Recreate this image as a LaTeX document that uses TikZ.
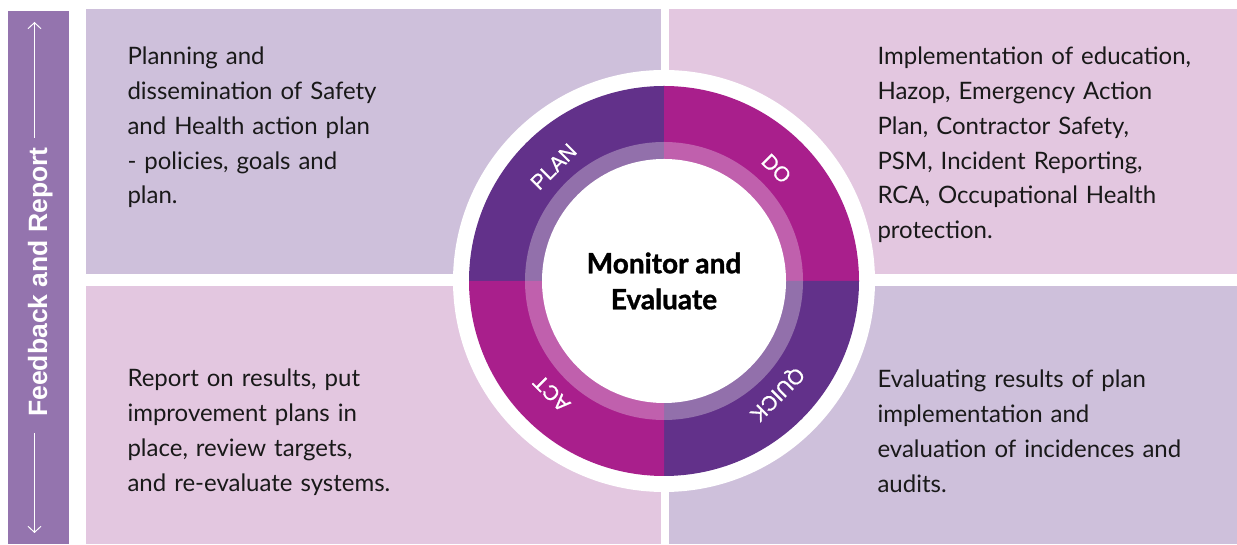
\documentclass[tikz,border=0pt]{standalone}
\usepackage{fontspec}
\setmainfont{Lato}
\newfontfamily\ringfont[FakeBold=0.8]{Liberation Sans}
\newfontfamily\barfont{Liberation Sans}
\newfontfamily\heavyfont[BoldFeatures={FakeBold=1.2}]{Lato}
\usepackage{tikz}
\usetikzlibrary{arrows.meta}
\usetikzlibrary{positioning}

\definecolor{barpurple}{HTML}{9474AE}
\definecolor{lilac}{HTML}{CEC0DB}
\definecolor{blush}{HTML}{E3C7E0}
\definecolor{deeppurple}{HTML}{62318A}
\definecolor{deepmagenta}{HTML}{A91F8C}
\definecolor{softpurple}{HTML}{9270AB}
\definecolor{softmagenta}{HTML}{C060AD}

\tikzstyle{panel} = [rectangle,inner sep=0pt,anchor=south west]
\tikzstyle{desc}  = [anchor=base west,inner sep=0pt,text width=340pt,align=left,text=black!90,font=\fontsize{24}{34.7}\selectfont]
\tikzstyle{ringlabel} = [text=white,inner sep=0pt,font=\ringfont\fontsize{21}{21}\selectfont]

\begin{document}
\begin{tikzpicture}[x=1pt,y=1pt,>={Straight Barb[length=6pt,width=13pt]},line width=1pt]

\useasboundingbox (0,0) rectangle (1237,545);

% side bar
\node[panel, fill=barpurple, minimum width=61pt, minimum height=533pt] (bar) at (7,0) {};
\node[text=white, inner sep=0pt, rotate=90, anchor=base, font=\barfont\bfseries\fontsize{26.5}{26.5}\selectfont] (feedback) at (47,263) {Feedback and Report};
\coordinate (up) at (34.5,523);
\coordinate (down) at (34.5,12);
\draw[->, white] (up |- feedback.east) ++(0,9) -- (up);
\draw[->, white] (down |- feedback.west) ++(0,-16) -- (down);

% quadrants
\node[panel, fill=lilac, minimum width=575pt, minimum height=265pt] (planbox) at (85,270) {};
\node[panel, fill=blush, minimum width=569pt, minimum height=265pt] (dobox) at (668,270) {};
\node[panel, fill=blush, minimum width=575pt, minimum height=258pt] (actbox) at (85,0) {};
\node[panel, fill=lilac, minimum width=569pt, minimum height=258pt] (quickbox) at (668,0) {};

\node[desc] (plantext) at (127,480) {Planning and\\dissemination of Safety\\and Health action plan\\- policies, goals and\\plan.};
\node[desc] (dotext) at (877,480) {Implementation of education,\\Hazop, Emergency Action\\Plan, Contractor Safety,\\PSM, Incident Reporting,\\RCA, Occupational Health\\protection.};
\node[desc] (acttext) at (127,158) {Report on results, put\\improvement plans in\\place, review targets,\\and re-evaluate systems.};
\node[desc] (quicktext) at (877,157) {Evaluating results of plan\\implementation and\\evaluation of incidences and\\audits.};

% wheel
\coordinate (C) at (664,264);
\fill[white] (C) circle[radius=211];
\fill[deeppurple]  (C) -- ++(90:195)  arc[start angle=90,end angle=180,radius=195] -- cycle;
\fill[deepmagenta] (C) -- ++(0:195)   arc[start angle=0,end angle=90,radius=195] -- cycle;
\fill[deeppurple]  (C) -- ++(-90:195) arc[start angle=-90,end angle=0,radius=195] -- cycle;
\fill[deepmagenta] (C) -- ++(180:195) arc[start angle=180,end angle=270,radius=195] -- cycle;
\fill[softpurple]  (C) -- ++(90:139)  arc[start angle=90,end angle=180,radius=139] -- cycle;
\fill[softmagenta] (C) -- ++(0:139)   arc[start angle=0,end angle=90,radius=139] -- cycle;
\fill[softpurple]  (C) -- ++(-90:139) arc[start angle=-90,end angle=0,radius=139] -- cycle;
\fill[softmagenta] (C) -- ++(180:139) arc[start angle=180,end angle=270,radius=139] -- cycle;
\fill[white] (C) circle[radius=122];

\node[ringlabel, rotate=45]  (plan)  at ([shift={(134:159)}]C) {PLAN};
\node[ringlabel, rotate=-45] (do)    at ([shift={(45:159)}]C)  {DO};
\node[ringlabel, rotate=225] (quick) at ([shift={(-45:159)}]C) {QUICK};
\node[ringlabel, rotate=135] (act)   at ([shift={(-135:159)}]C) {ACT};

\node[align=center, inner sep=0pt, font=\heavyfont\bfseries\fontsize{28}{36}\selectfont] (monitor) at (C) {Monitor and\\Evaluate};

\end{tikzpicture}
\end{document}
